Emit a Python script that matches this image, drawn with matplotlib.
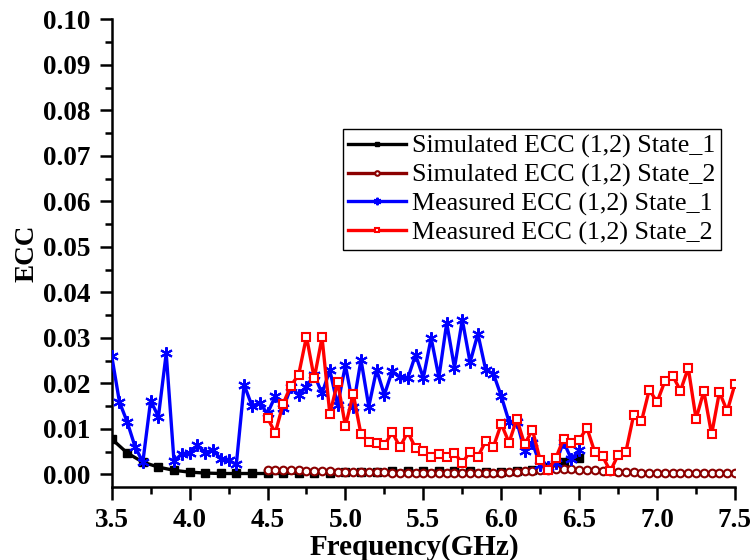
import numpy as np
import matplotlib
matplotlib.use("Agg")
import matplotlib.pyplot as plt
from matplotlib.ticker import MultipleLocator, FormatStrFormatter

# Simulated ECC, state 1 (0.1 GHz steps, 3.5-6.5 GHz)
sim1_freq = np.round(np.arange(3.5, 6.501, 0.1), 2)
sim1_ecc = [0.0078, 0.0047, 0.0027, 0.0016, 0.0009, 0.0005, 0.0003, 0.0002, 0.0002, 0.0002,
            0.0002, 0.0002, 0.0003, 0.0003, 0.0004, 0.0005, 0.0006, 0.0006, 0.0007, 0.0007,
            0.0007, 0.0007, 0.0007, 0.0007, 0.0006, 0.0006, 0.0007, 0.0010, 0.0017, 0.0027,
            0.0035]

# Simulated ECC, state 2 (0.05 GHz steps, 4.5-7.5 GHz)
sim2_freq = np.round(np.arange(4.5, 7.501, 0.05), 2)
sim2_ecc = [0.0010, 0.0010, 0.0010, 0.0009, 0.0009, 0.0008, 0.0008, 0.0007, 0.0007, 0.0006,
            0.0006, 0.0005, 0.0005, 0.0005, 0.0005, 0.0005, 0.0004, 0.0004, 0.0004, 0.0004,
            0.0004, 0.0004, 0.0004, 0.0004, 0.0004, 0.0004, 0.0004, 0.0004, 0.0004, 0.0004,
            0.0004, 0.0005, 0.0006, 0.0007, 0.0008, 0.0009, 0.0010, 0.0011, 0.0011, 0.0011,
            0.0010, 0.0010, 0.0009, 0.0008, 0.0007, 0.0006, 0.0005, 0.0005, 0.0004, 0.0004,
            0.0004, 0.0004, 0.0004, 0.0004, 0.0004, 0.0003, 0.0003, 0.0003, 0.0003, 0.0003,
            0.0003]

# Measured ECC, state 1 (0.05 GHz steps, 3.5-6.5 GHz)
meas1_freq = np.round(np.arange(3.5, 6.501, 0.05), 2)
meas1_ecc = [0.0261, 0.0159, 0.0115, 0.0061, 0.0027, 0.0162, 0.0127, 0.0266, 0.0029, 0.0045,
             0.0047, 0.0064, 0.0048, 0.0054, 0.0034, 0.0031, 0.0022, 0.0197, 0.0151, 0.0156,
             0.0134, 0.0172, 0.0145, 0.0191, 0.0175, 0.0193, 0.0219, 0.0178, 0.0229, 0.0152,
             0.0240, 0.0149, 0.0252, 0.0149, 0.0230, 0.0175, 0.0227, 0.0213, 0.0211, 0.0263,
             0.0212, 0.0300, 0.0213, 0.0333, 0.0234, 0.0340, 0.0246, 0.0309, 0.0230, 0.0221,
             0.0172, 0.0116, 0.0116, 0.0051, 0.0069, 0.0021, 0.0016, 0.0025, 0.0072, 0.0033,
             0.0053]

# Measured ECC, state 2 (0.05 GHz steps, 4.5-7.5 GHz)
meas2_freq = np.round(np.arange(4.5, 7.501, 0.05), 2)
meas2_ecc = [0.0124, 0.0091, 0.0155, 0.0195, 0.0219, 0.0303, 0.0211, 0.0301, 0.0133, 0.0203,
             0.0106, 0.0177, 0.0088, 0.0072, 0.0069, 0.0064, 0.0093, 0.0060, 0.0093, 0.0058,
             0.0051, 0.0038, 0.0045, 0.0039, 0.0047, 0.0025, 0.0050, 0.0039, 0.0073, 0.0061,
             0.0111, 0.0070, 0.0122, 0.0066, 0.0098, 0.0031, 0.0009, 0.0036, 0.0078, 0.0069,
             0.0076, 0.0102, 0.0049, 0.0040, 0.0007, 0.0043, 0.0050, 0.0131, 0.0117, 0.0186,
             0.0159, 0.0205, 0.0217, 0.0184, 0.0234, 0.0122, 0.0183, 0.0088, 0.0181, 0.0139,
             0.0199]

labels = ["Simulated ECC (1,2) State_1", "Simulated ECC (1,2) State_2",
          "Measured ECC (1,2) State_1", "Measured ECC (1,2) State_2"]

plt.rcParams["font.family"] = ["Liberation Serif", "DejaVu Serif"]

fig = plt.figure(figsize=(7.54, 5.60), dpi=100)
ax = fig.add_axes([0.1481, 0.1309, 0.8267, 0.8346])

lw = 2.4
ax.plot(sim1_freq, sim1_ecc, color="black", lw=lw, marker="s", ms=5.5,
        mfc="black", mec="black", label=labels[0], zorder=3)
ax.plot(sim2_freq, sim2_ecc, color="#8B0000", lw=lw, marker="o", ms=5.5,
        mfc="white", mec="#8B0000", mew=1.5, label=labels[1], zorder=3)
ax.plot(meas1_freq, meas1_ecc, color="blue", lw=lw, marker=(6, 2, 0), ms=9,
        mec="blue", mew=1.5, label=labels[2], zorder=4)
ax.plot(meas2_freq, meas2_ecc, color="red", lw=lw, marker="s", ms=5.5,
        mfc="white", mec="red", mew=1.5, label=labels[3], zorder=5)

ax.set_xlim(3.5, 7.5)
ax.set_ylim(-0.0027, 0.1)
ax.xaxis.set_major_locator(MultipleLocator(0.5))
ax.xaxis.set_minor_locator(MultipleLocator(0.25))
ax.yaxis.set_major_locator(MultipleLocator(0.01))
ax.yaxis.set_minor_locator(MultipleLocator(0.005))
ax.xaxis.set_major_formatter(FormatStrFormatter("%.1f"))
ax.yaxis.set_major_formatter(FormatStrFormatter("%.2f"))

for side in ("top", "right"):
    ax.spines[side].set_visible(False)
for side in ("left", "bottom"):
    ax.spines[side].set_linewidth(1.8)

ax.tick_params(which="major", direction="out", length=9, width=1.8, pad=6,
               labelsize=19.5)
ax.tick_params(which="minor", direction="out", length=5, width=1.8)
for t in ax.get_xticklabels() + ax.get_yticklabels():
    t.set_fontweight("bold")

ax.set_xlabel("Frequency(GHz)", fontsize=21, fontweight="bold", labelpad=1)
ax.xaxis.label.set_x(0.485)
ax.set_ylabel("ECC", fontsize=19.5, fontweight="bold", labelpad=3)

leg = ax.legend(loc="upper left", bbox_to_anchor=(0.3706, 0.7653), fontsize=18.7,
                frameon=True, fancybox=False, edgecolor="black", framealpha=1,
                handlelength=2.2, handletextpad=0.25, borderpad=0.22,
                labelspacing=0.2, borderaxespad=0, numpoints=1, markerscale=0.6)
leg.get_frame().set_linewidth(1.0)

fig.savefig("out.png", dpi=100)
